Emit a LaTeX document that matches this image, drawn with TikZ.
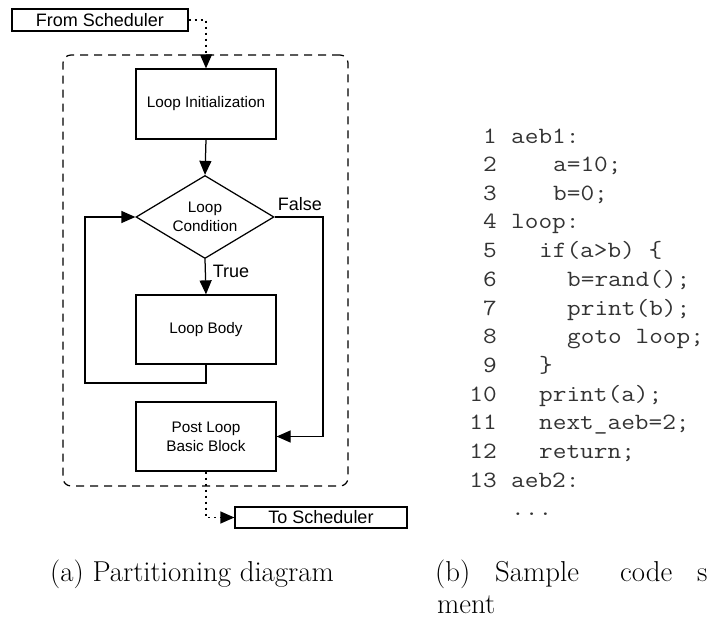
\documentclass[tikz,border=0pt]{standalone}
\usepackage{fontspec}
\setsansfont{Liberation Sans}
\newfontfamily\codefont{Latin Modern Mono}[FakeStretch=1.14]
\usetikzlibrary{shapes.geometric,arrows.meta}
\begin{document}
\begin{tikzpicture}[x=1pt,y=-1pt,
  box/.style={draw,line width=1.25pt,inner sep=0pt,align=center,
    font=\sffamily\fontsize{15.3}{19}\selectfont},
  schedbox/.style={draw,line width=1.25pt,inner sep=0pt,
    font=\sffamily\fontsize{18}{21}\selectfont},
  lbl/.style={inner sep=0pt,font=\sffamily\fontsize{18}{21}\selectfont},
  conn/.style={line width=1.25pt,-{Triangle[length=14pt,width=12pt]}},
  dotconn/.style={line width=1.25pt,dash pattern=on 2pt off 4pt,-{Triangle[length=14pt,width=12pt]}},
  region/.style={draw,line width=1.25pt,dash pattern=on 8pt off 6pt,rounded corners=8pt,inner sep=0pt},
  num/.style={anchor=base east,inner sep=0pt,text=black!80,font=\codefont\fontsize{23.3}{28}\selectfont},
  code/.style={anchor=base west,inner sep=0pt,text=black!80,font=\codefont\fontsize{23.3}{28}\selectfont},
  capt/.style={anchor=base west,inner sep=0pt,font=\rmfamily\fontsize{28.8}{34.6}\selectfont}
]
\useasboundingbox (0,0) rectangle (716,618);

% dashed region
\node[region,minimum width=285pt,minimum height=431pt] (reg) at (205.5,270.5) {};

% boxes
\node[schedbox,minimum width=176pt,minimum height=22pt] (from) at (100,20) {From Scheduler};
\node[box,minimum width=140pt,minimum height=70pt] (init) at (206,104) {Loop Initialization};
\node[box,shape=diamond,aspect=1.66,minimum width=138pt,minimum height=83pt] (cond) at (205,217) {Loop\\Condition};
\node[box,minimum width=140pt,minimum height=69pt] (body) at (206,329.5) {Loop Body};
\node[box,minimum width=140pt,minimum height=69pt] (post) at (206,436.5) {Post Loop\\Basic Block};
\node[schedbox,minimum width=172pt,minimum height=21pt] (to) at (321,517.5) {To Scheduler};

\node[lbl] (false) at (300,204) {False};
\node[lbl] (true) at (231,271) {True};

% connectors
\draw[dotconn] (from.east) -| (init.north);
\draw[conn] (init.south) -- (cond.north);
\draw[conn] (cond.south) -- (body.north);
\coordinate (lb) at (85,383);
\draw[conn] (body.south) |- (lb) |- (cond.west);
\coordinate (fr) at (323,436.5);
\draw[conn] (cond.east) -| (fr) -- (post.east);
\draw[dotconn] (post.south) |- (to.west);

% code listing
\node[num] (n1) at (497,143) {1};    \node[code] (c1) at (511,143) {aeb1:};
\node[num] (n2) at (497,171.7) {2};  \node[code] (c2) at (553,171.7) {a=10;};
\node[num] (n3) at (497,200.3) {3};  \node[code] (c3) at (553,200.3) {b=0;};
\node[num] (n4) at (497,229) {4};    \node[code] (c4) at (511,229) {loop:};
\node[num] (n5) at (497,257.7) {5};  \node[code] (c5) at (539,257.7) {if(a>b) \{};
\node[num] (n6) at (497,286.3) {6};  \node[code] (c6) at (567,286.3) {b=rand();};
\node[num] (n7) at (497,315) {7};    \node[code] (c7) at (567,315) {print(b);};
\node[num] (n8) at (497,343.7) {8};  \node[code] (c8) at (567,343.7) {goto loop;};
\node[num] (n9) at (497,372.3) {9};  \node[code] (c9) at (539,372.3) {\}};
\node[num] (n10) at (497,401) {10};  \node[code] (c10) at (539,401) {print(a);};
\node[num] (n11) at (497,429.7) {11};\node[code] (c11) at (539,429.7) {next\_aeb=2;};
\node[num] (n12) at (497,458.3) {12};\node[code] (c12) at (539,458.3) {return;};
\node[num] (n13) at (497,487) {13};  \node[code] (c13) at (511,487) {aeb2:};
\node[code] (c14) at (511,515.7) {...};

% captions
\node[capt] (capa) at (50,581) {(a) Partitioning diagram};
\node[capt] (capb1) at (435,581) {(b)};
\node[capt] (capb2) at (495,581) {Sample};
\node[capt] (capb3) at (620,581) {code};
\node[capt] (capb4) at (697,581) {s};
\node[capt] (capb5) at (437,613) {ment};
\end{tikzpicture}
\end{document}
